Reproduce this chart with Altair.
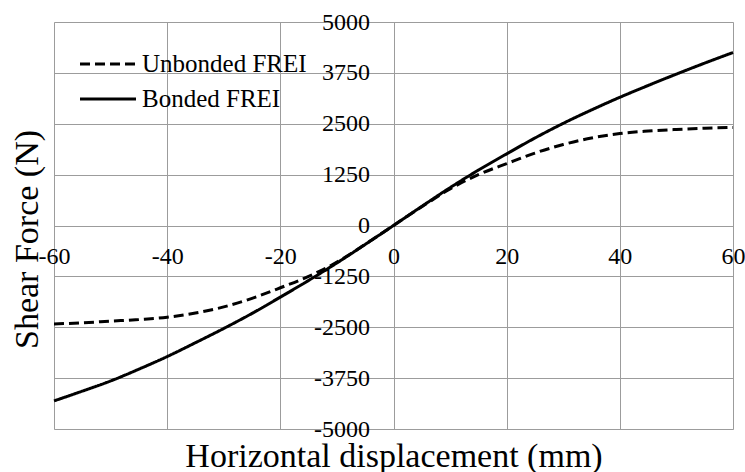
import altair as alt
import pandas as pd

# Shear force vs. horizontal displacement for two FREI configurations
displacement = [-60, -55, -50, -45, -40, -35, -30, -25, -20, -15, -10, -5, 0,
                5, 10, 15, 20, 25, 30, 35, 40, 45, 50, 55, 60]
unbonded_force = [-2420, -2390, -2350, -2310, -2255, -2150, -2000, -1790, -1530,
                  -1250, -900, -460, 0, 460, 900, 1250, 1520, 1780, 1990, 2150,
                  2260, 2320, 2360, 2390, 2410]
bonded_force = [-4310, -4070, -3820, -3530, -3220, -2880, -2530, -2160, -1760,
                -1350, -920, -465, 0, 470, 930, 1360, 1760, 2150, 2510, 2840,
                3150, 3440, 3720, 3990, 4250]
series_names = ["Unbonded FREI", "Bonded FREI"]
x_ticks = [-60, -40, -20, 0, 20, 40, 60]
y_ticks = [-5000, -3750, -2500, -1250, 0, 1250, 2500, 3750, 5000]

rows = []
for name, forces in zip(series_names, [unbonded_force, bonded_force]):
    for d, f in zip(displacement, forces):
        rows.append({"disp": d, "force": f, "series": name})
df = pd.DataFrame(rows)

FONT = "Liberation Serif"
W, H = 679, 407
GRID = "#9c9c9c"

x_axis = alt.Axis(
    values=x_ticks, grid=True, gridColor=GRID, gridWidth=1,
    domain=False, ticks=False, offset=-H / 2,
    labelExpr="'' + datum.value", labelFont=FONT, labelFontSize=24,
    labelColor="black", labelPadding=19, labelFlush=False, labelOverlap=False,
    labelBaseline="top",
    title="Horizontal displacement (mm)", titleFont=FONT, titleFontSize=34,
    titleFontWeight="normal", titleColor="black",
    titleX=W / 2, titleY=241, titleAlign="center", titleBaseline="alphabetic",
)
y_axis = alt.Axis(
    values=y_ticks, grid=True, gridColor=GRID, gridWidth=1,
    domain=False, ticks=False, offset=-W / 2,
    labelExpr="'' + datum.value", labelFont=FONT, labelFontSize=24,
    labelColor="black", labelPadding=24, labelFlush=False, labelOverlap=False,
    labelBaseline="middle", labelAlign="right",
    title="Shear Force (N)", titleFont=FONT, titleFontSize=34,
    titleFontWeight="normal", titleColor="black", titleAngle=270,
    titleX=-356.5, titleY=217, titleAlign="center", titleBaseline="alphabetic",
)

legend = alt.Legend(
    title=None, orient="none", legendX=32.5, legendY=20.5, padding=0,
    symbolType="M-1.4,0H1.4", symbolSize=1600, symbolStrokeWidth=3,
    symbolStrokeColor="black", labelOffset=12.5, rowPadding=0, labelLimit=0,
    labelFont=FONT, labelFontSize=25, labelColor="black", labelBaseline="middle",
)

chart = (
    alt.Chart(df)
    .mark_line(color="black", strokeWidth=3, interpolate="monotone")
    .encode(
        x=alt.X("disp:Q", scale=alt.Scale(domain=[-60, 60], nice=False), axis=x_axis),
        y=alt.Y("force:Q", scale=alt.Scale(domain=[-5000, 5000], nice=False), axis=y_axis),
        strokeDash=alt.StrokeDash(
            "series:N",
            scale=alt.Scale(domain=series_names, range=[[10, 5], [1, 0]]),
            legend=legend,
        ),
    )
    .properties(
        width=W, height=H,
        padding={"left": 54, "top": 22, "right": 12, "bottom": 43},
        autosize=alt.AutoSizeParams(type="none"),
        background="white",
    )
    .configure_view(stroke=None)
    .configure_axis(labelFont=FONT, titleFont=FONT)
    .configure_legend(labelFont=FONT)
    .configure(font=FONT)
)

chart.save("out.html", embed_options={"renderer": "svg", "actions": False})
